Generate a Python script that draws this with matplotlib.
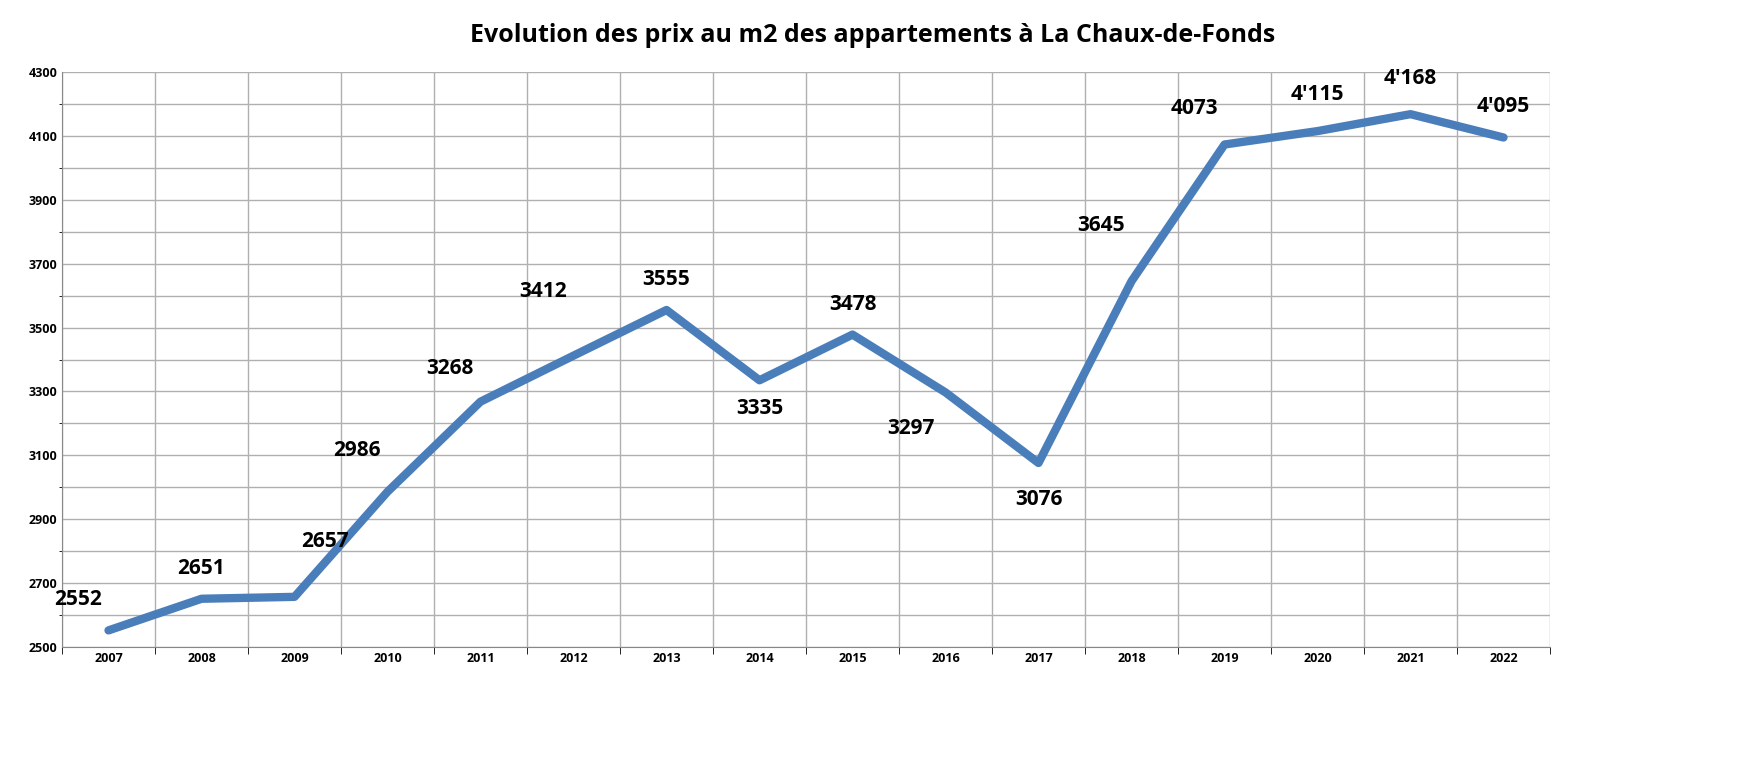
import matplotlib.pyplot as plt
import numpy as np

years = ['2007', '2008', '2009', '2010', '2011', '2012', '2013', '2014', '2015',
         '2016', '2017', '2018', '2019', '2020', '2021', '2022']
prices = [2552, 2651, 2657, 2986, 3268, 3412, 3555, 3335, 3478, 3297, 3076, 3645, 4073, 4115, 4168, 4095]
labels = ['2552', '2651', '2657', '2986', '3268', '3412', '3555', '3335', '3478',
          '3297', '3076', '3645', '4073', "4'115", "4'168", "4'095"]
# label offsets in points (dx, dy)
offsets = [(-22, 22), (0, 22), (22, 40), (-22, 30), (-22, 24), (-22, 46), (0, 22), (0, -20),
           (0, 22), (-25, -26), (0, -26), (-22, 40), (-22, 26), (0, 26), (0, 26), (0, 22)]

plt.rcParams['font.family'] = 'Open Sans'
fig = plt.figure(figsize=(17.46, 7.66), dpi=100)
ax = fig.add_axes([62 / 1746, 1 - 647 / 766, (1550 - 62) / 1746, (647 - 72) / 766])

x = np.arange(len(years))
ax.plot(x, prices, color='#4a7ebb', linewidth=6, solid_capstyle='round', solid_joinstyle='round')
for xi, yi, lab, (dx, dy) in zip(x, prices, labels, offsets):
    ax.annotate(lab, (xi, yi), xytext=(dx, dy), textcoords='offset points',
                ha='center', va='center', fontsize=15, fontweight='bold')

ax.set_xlim(-0.5, len(years) - 0.5)
ax.set_ylim(2500, 4300)
ax.set_xticks(x)
ax.set_xticklabels(years, fontsize=9, fontweight='bold')
ax.set_xticks(np.arange(-0.5, len(years)), minor=True)
ax.set_yticks(np.arange(2500, 4301, 200))
ax.set_yticks(np.arange(2600, 4300, 200), minor=True)
ax.tick_params(axis='y', labelsize=9, length=0)
for t in ax.get_yticklabels():
    t.set_fontweight('bold')
ax.tick_params(axis='x', which='major', length=0)
ax.tick_params(axis='x', which='minor', length=5)
ax.grid(True, which='minor', axis='x', color='#b0b0b0', linewidth=1)
ax.grid(True, which='both', axis='y', color='#b0b0b0', linewidth=1)
for s in ['top', 'right']:
    ax.spines[s].set_visible(False)
for s in ['left', 'bottom']:
    ax.spines[s].set_color('#888888')
ax.set_axisbelow(True)

fig.suptitle('Evolution des prix au m2 des appartements à La Chaux-de-Fonds',
             fontsize=18, fontweight='bold', y=0.97)
fig.savefig('out.png', dpi=100)
